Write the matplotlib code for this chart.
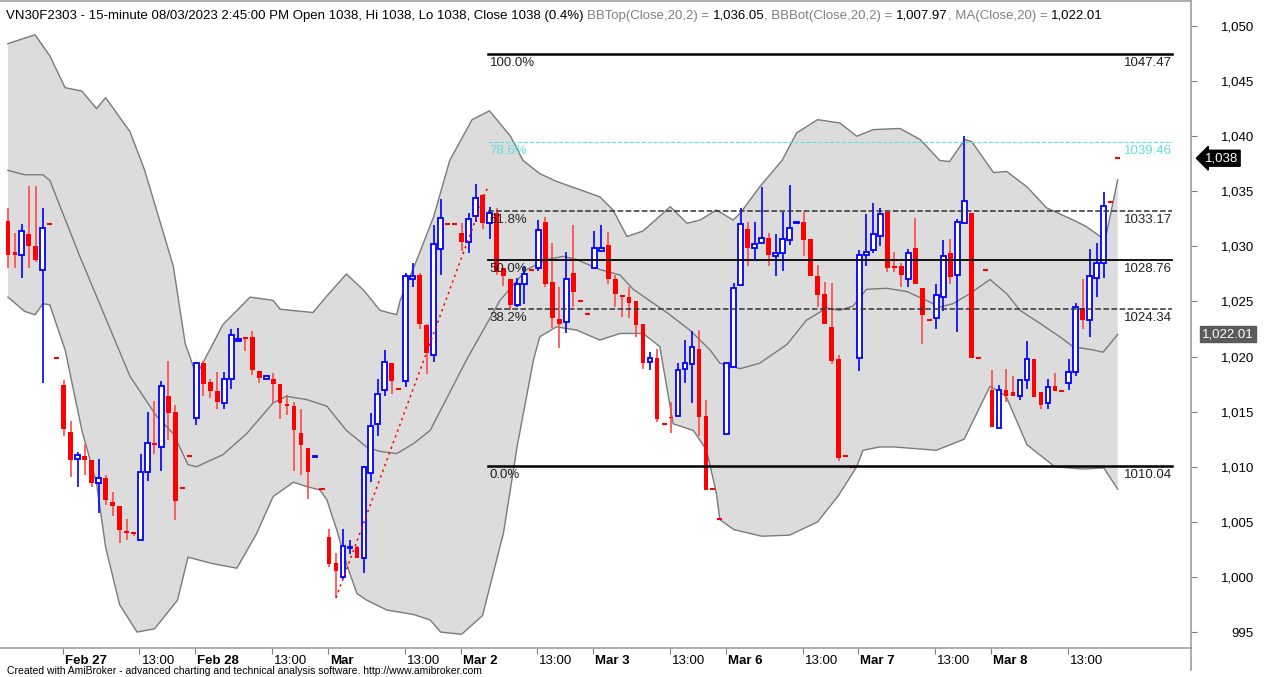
import numpy as np
import matplotlib.pyplot as plt
import matplotlib.transforms as mtransforms

# 15-minute bars, tail of Feb 24 then Feb 27 .. Mar 8 (19 bars a day)
opens = [1032.3, 1029.5, 1029.2, 1031.1, 1030.0, 1027.9, 1032.0, 1019.9,
         1017.4, 1013.2, 1010.7, 1011.0, 1010.6, 1008.5, 1009.0, 1006.8, 1006.4, 1004.2, 1004.0, 1003.4,
         1009.5, 1012.2, 1011.8, 1016.4, 1015.0, 1008.1, 1011.0,
         1014.4, 1019.4, 1017.7, 1016.9, 1015.8, 1018.0, 1021.4, 1021.7, 1021.8, 1018.7, 1018.0, 1018.0,
         1017.5, 1015.7, 1015.5, 1013.1, 1011.7, 1010.85, 1008.0,
         1003.6, 1001.3, 1000.0, 1002.6, 1002.7, 1001.7, 1009.4, 1013.9, 1017.0, 1019.4, 1017.1, 1017.8,
         1027.0, 1027.4, 1022.9, 1020.1, 1029.8, 1032.0, 1032.0,
         1031.2, 1030.4, 1032.8, 1034.7, 1032.1, 1033.0, 1028.0, 1027.0, 1024.7, 1026.6, 1027.9, 1028.0,
         1032.2, 1026.8, 1023.4, 1023.1, 1027.6, 1025.0, 1023.9,
         1028.0, 1029.6, 1030.1, 1027.0, 1025.6, 1025.4, 1025.0, 1023.0, 1019.5, 1019.9, 1013.9, 1014.5,
         1014.6, 1018.9, 1019.3, 1020.7, 1014.6, 1008.0, 1005.3,
         1013.0, 1019.1, 1026.5, 1031.6, 1029.9, 1030.3, 1030.8, 1029.1, 1029.4, 1030.6, 1032.15, 1032.2,
         1030.7, 1027.3, 1025.7, 1022.7, 1019.8, 1011.0, 1010.0,
         1019.9, 1029.2, 1029.7, 1030.9, 1033.1, 1028.2, 1028.2, 1027.0, 1029.9, 1026.2, 1023.3, 1023.5,
         1025.4, 1029.4, 1027.4, 1032.1, 1033.0, 1019.9, 1027.9,
         1017.0, 1013.5, 1017.0, 1016.8, 1016.4, 1017.9, 1019.8, 1016.8, 1015.8, 1017.3, 1016.9, 1017.6,
         1018.6, 1024.4, 1023.3, 1027.1, 1028.5, 1034.0, 1038.0]
highs = [1033.5, 1031.2, 1032.0, 1035.5, 1035.5, 1033.5, 1032.0, 1019.9,
         1017.9, 1014.2, 1011.3, 1012.1, 1010.6, 1010.7, 1009.3, 1007.7, 1006.4, 1005.3, 1004.0, 1011.2,
         1015.0, 1016.0, 1017.8, 1019.6, 1015.6, 1008.1, 1011.0,
         1019.5, 1019.6, 1018.0, 1018.6, 1018.6, 1022.5, 1022.6, 1021.7, 1022.3, 1018.7, 1018.3, 1018.5,
         1017.5, 1016.5, 1015.9, 1015.2, 1011.7, 1010.95, 1008.0,
         1004.4, 1002.2, 1004.4, 1003.4, 1002.8, 1010.1, 1014.9, 1018.0, 1020.6, 1019.4, 1017.1, 1027.6,
         1028.5, 1027.6, 1023.0, 1031.9, 1034.3, 1032.0, 1032.0,
         1032.1, 1033.0, 1035.7, 1034.8, 1033.6, 1033.5, 1028.0, 1027.0, 1027.1, 1028.2, 1027.9, 1032.4,
         1032.7, 1030.3, 1026.3, 1029.5, 1031.9, 1025.0, 1023.9,
         1031.4, 1031.9, 1031.3, 1027.4, 1025.6, 1026.3, 1025.0, 1023.0, 1020.4, 1020.7, 1013.9, 1015.9,
         1019.4, 1021.5, 1022.3, 1022.4, 1016.1, 1008.0, 1005.3,
         1019.4, 1026.7, 1033.5, 1032.2, 1032.2, 1035.4, 1031.2, 1031.1, 1033.1, 1035.6, 1032.25, 1033.1,
         1030.7, 1028.3, 1026.8, 1026.7, 1020.1, 1011.0, 1010.0,
         1029.7, 1032.9, 1033.9, 1033.5, 1033.1, 1029.5, 1028.5, 1029.8, 1032.6, 1026.2, 1023.3, 1026.6,
         1030.6, 1030.7, 1032.5, 1040.0, 1033.0, 1019.9, 1027.9,
         1018.8, 1017.4, 1018.9, 1018.2, 1017.9, 1021.4, 1019.8, 1016.8, 1018.0, 1018.5, 1016.9, 1019.8,
         1024.9, 1027.0, 1029.8, 1030.3, 1034.9, 1034.0, 1038.0]
lows = [1028.0, 1028.0, 1027.1, 1028.0, 1028.6, 1017.6, 1032.0, 1019.9,
        1012.8, 1009.1, 1008.2, 1009.3, 1008.2, 1005.8, 1006.5, 1005.5, 1003.1, 1003.4, 1003.7, 1003.4,
        1008.7, 1011.2, 1009.6, 1012.4, 1005.2, 1008.1, 1011.0,
        1013.8, 1016.4, 1016.2, 1015.2, 1015.2, 1017.1, 1021.4, 1020.5, 1018.3, 1017.6, 1018.0, 1015.8,
        1014.3, 1014.7, 1009.6, 1009.3, 1007.1, 1010.85, 1008.0,
        1000.9, 998.1, 999.8, 1002.1, 1001.7, 1000.4, 1008.6, 1012.8, 1016.4, 1016.6, 1017.1, 1017.2,
        1026.3, 1022.5, 1018.4, 1019.5, 1027.4, 1032.0, 1032.0,
        1029.6, 1029.4, 1032.2, 1031.6, 1030.7, 1027.4, 1026.4, 1024.2, 1024.5, 1024.8, 1027.9, 1027.8,
        1026.3, 1022.6, 1020.8, 1022.1, 1024.5, 1025.0, 1023.9,
        1028.0, 1029.6, 1026.6, 1024.5, 1023.6, 1023.5, 1021.8, 1018.9, 1018.8, 1014.1, 1013.9, 1013.1,
        1014.6, 1017.6, 1015.8, 1012.8, 1007.9, 1008.0, 1005.3,
        1013.0, 1019.1, 1026.5, 1028.2, 1028.7, 1030.3, 1028.2, 1027.3, 1027.8, 1030.1, 1032.15, 1029.1,
        1027.3, 1024.5, 1023.0, 1019.3, 1010.5, 1011.0, 1010.0,
        1018.7, 1028.2, 1029.4, 1030.0, 1027.7, 1027.7, 1026.3, 1026.3, 1026.6, 1021.1, 1023.3, 1022.5,
        1024.1, 1026.6, 1022.2, 1032.1, 1019.9, 1019.9, 1027.9,
        1013.6, 1013.5, 1015.9, 1016.4, 1016.1, 1017.1, 1016.3, 1015.2, 1015.2, 1016.9, 1016.9, 1017.0,
        1018.2, 1022.5, 1021.8, 1025.4, 1027.1, 1034.0, 1038.0]
closes = [1029.2, 1029.2, 1031.4, 1030.0, 1028.8, 1031.7, 1032.0, 1019.9,
          1013.4, 1010.6, 1011.1, 1010.6, 1008.5, 1009.0, 1007.0, 1006.4, 1004.3, 1004.0, 1004.0, 1009.5,
          1012.2, 1012.0, 1017.3, 1014.9, 1006.9, 1008.1, 1011.0,
          1019.4, 1017.5, 1016.9, 1015.9, 1018.0, 1022.0, 1021.6, 1021.7, 1018.8, 1018.1, 1018.2, 1017.5,
          1015.8, 1015.5, 1013.3, 1012.0, 1009.5, 1010.95, 1008.0,
          1001.2, 1000.5, 1002.8, 1002.7, 1001.7, 1010.0, 1013.7, 1016.6, 1019.5, 1017.8, 1017.1, 1027.3,
          1027.3, 1023.0, 1020.3, 1030.2, 1032.6, 1032.0, 1032.0,
          1030.4, 1032.5, 1034.4, 1032.1, 1033.0, 1027.7, 1027.3, 1024.7, 1026.6, 1027.5, 1027.9, 1031.5,
          1026.6, 1023.5, 1023.0, 1027.0, 1025.9, 1025.0, 1023.9,
          1029.9, 1029.9, 1027.0, 1025.7, 1025.4, 1024.9, 1022.9, 1019.4, 1019.9, 1014.3, 1013.9, 1014.4,
          1018.8, 1019.4, 1020.9, 1014.5, 1007.9, 1008.0, 1005.3,
          1019.4, 1026.2, 1032.0, 1029.9, 1030.2, 1030.8, 1029.2, 1029.4, 1030.7, 1031.7, 1032.25, 1030.6,
          1027.3, 1025.6, 1023.0, 1019.6, 1010.8, 1011.0, 1010.0,
          1029.2, 1029.5, 1031.1, 1032.9, 1028.0, 1028.0, 1027.4, 1029.4, 1026.6, 1023.8, 1023.3, 1025.6,
          1029.1, 1027.2, 1032.2, 1034.1, 1019.9, 1019.9, 1027.9,
          1013.6, 1017.0, 1016.4, 1016.4, 1017.9, 1019.8, 1016.3, 1015.6, 1017.2, 1016.9, 1016.9, 1018.6,
          1024.5, 1023.3, 1027.3, 1028.5, 1033.7, 1034.0, 1038.0]

# Bollinger bands (20,2), position in bars
bb_top_x = [0, 2.4, 3.9, 5, 6, 8.2, 10.6, 12.7, 14, 17.5, 19.6, 23.7, 25.4, 27, 30.8, 34.7, 38, 39,
            43.7, 45.7, 48.5, 51, 53.3, 55.7, 56.2, 58.6, 61, 63.3, 66.5, 69, 72, 73.8, 76.2, 78.6,
            84.8, 86.7, 88.7, 91, 94.9, 97.3, 99.2, 101.5, 103.9, 104.9, 107.7, 110.9, 113, 116, 119.2,
            121.6, 124, 127.8, 130.7, 133.5, 134.9, 137.1, 138.1, 141.2, 143.1, 146, 148.8, 152.6,
            154.5, 156.5, 157.4, 159]
bb_top = [1048.4, 1048.9, 1049.2, 1048.2, 1047.3, 1044.4, 1044.1, 1042.5, 1043.5, 1040.4, 1036.9,
          1028.2, 1021.2, 1018.3, 1022.9, 1025.4, 1025.1, 1024.3, 1024.0, 1025.5, 1027.5, 1026.0,
          1024.2, 1023.8, 1025.1, 1028.8, 1032.7, 1037.8, 1041.5, 1042.3, 1040.0, 1037.8, 1036.6,
          1035.9, 1034.5, 1033.3, 1030.9, 1031.4, 1033.6, 1032.1, 1032.4, 1033.3, 1032.4, 1033.0,
          1035.4, 1037.8, 1040.3, 1041.5, 1041.2, 1040.0, 1040.6, 1040.7, 1039.7, 1037.8, 1037.7,
          1039.7, 1039.5, 1036.7, 1036.8, 1035.4, 1033.5, 1032.4, 1031.8, 1030.9, 1031.2, 1036.05]
bb_mid_x = [0, 2.4, 5, 6, 10.3, 17.5, 21.3, 23.7, 25.8, 27, 30.8, 34.2, 38, 39.9, 42.8, 45.7, 48.5,
            51.4, 53.3, 55.7, 58.1, 60.5, 65.7, 70.5, 74.3, 77.2, 79.6, 81.5, 84.8, 87.7, 89.6, 94.4,
            97.7, 100.6, 102, 104.9, 107.7, 111.6, 114.4, 117.3, 119.2, 121.1, 123, 125.9, 128.8,
            131.6, 133.5, 135.4, 137.8, 140.7, 143.1, 145, 147.9, 150.7, 152.6, 155.5, 156.9, 159]
bb_mid = [1036.9, 1036.5, 1036.5, 1036.0, 1029.1, 1018.2, 1014.6, 1013.0, 1010.2, 1010.0, 1011.1,
          1013.0, 1015.8, 1016.4, 1016.1, 1015.5, 1013.3, 1011.8, 1011.4, 1011.2, 1012.1, 1013.3,
          1019.7, 1025.1, 1027.9, 1028.8, 1029.1, 1028.8, 1027.9, 1027.4, 1026.1, 1024.0, 1022.4,
          1020.6, 1019.4, 1018.9, 1019.4, 1021.1, 1023.3, 1024.4, 1024.2, 1024.6, 1026.1, 1026.2,
          1025.9, 1025.1, 1024.5, 1024.8, 1025.7, 1027.0, 1025.7, 1024.2, 1023.0, 1021.8, 1020.9,
          1020.6, 1020.4, 1022.01]
bb_bot_x = [0, 2.4, 3.9, 5, 6, 8.2, 10.6, 12.7, 14, 16, 18.5, 21, 24.3, 25.8, 27, 29.4, 32.8, 35.6,
            38, 40.9, 42.8, 44.7, 45.7, 47.1, 48.5, 50, 51.4, 54.3, 58.1, 60.5, 62, 65, 68, 71, 73,
            75.3, 76.2, 78.6, 81.5, 84.8, 87.7, 91, 93.4, 95.3, 98.2, 100.1, 101.5, 102, 104, 108, 112,
            116, 119, 121.6, 122.5, 124.9, 127, 133, 137, 140.7, 143, 146, 150, 154, 157, 159]
bb_bot = [1025.4, 1024.1, 1023.8, 1024.8, 1024.7, 1020.6, 1013.3, 1008.5, 1002.7, 997.5, 995.0,
          995.3, 997.9, 1001.8, 1001.6, 1001.2, 1000.8, 1003.9, 1007.3, 1008.6, 1008.2, 1007.9,
          1007.0, 1004.3, 1001.2, 998.5, 997.9, 997.0, 996.6, 996.1, 995.0, 994.8, 996.5, 1004.0,
          1012.0, 1019.7, 1021.8, 1022.7, 1022.4, 1021.5, 1022.1, 1022.1, 1020.9, 1013.9, 1013.3,
          1011.5, 1007.6, 1005.2, 1004.3, 1003.7, 1003.8, 1005.0, 1007.4, 1010.0, 1011.5, 1011.8,
          1011.8, 1011.5, 1012.5, 1017.3, 1016.4, 1012.0, 1010.0, 1009.8, 1009.9, 1007.97]

# fibonacci drawing
trend_x = [47, 68.8]
trend_y = [998.1, 1035.5]
fib_pct = ["100.0%", "78.6%", "61.8%", "50.0%", "38.2%", "0.0%"]
fib_val = [1047.47, 1039.46, 1033.17, 1028.76, 1024.34, 1010.04]

day_names = ["Feb 27", "Feb 28", "Mar", "Mar 2", "Mar 3", "Mar 6", "Mar 7", "Mar 8"]
day_start = [8, 27, 46, 65, 84, 103, 122, 141]

o = np.array(opens); h = np.array(highs); l = np.array(lows); c = np.array(closes)
n = len(c)
idx = np.arange(n)

W, H = 1266, 677
fig = plt.figure(figsize=(W / 100, H / 100), dpi=100)
plt.rcParams['font.family'] = ['Liberation Sans', 'DejaVu Sans']

ax_right = 1191
ax_top, ax_bot = 1, 648
ax = fig.add_axes([0, 1 - ax_bot / H, ax_right / W, (ax_bot - ax_top) / H])

bar_px = 6.98
x0_px = 7.9
ax.set_xlim(-x0_px / bar_px, (ax_right - x0_px) / bar_px)
px_per_pt = 11.02
ax.set_ylim(1050 - (ax_bot - 26) / px_per_pt, 1050 + (26 - ax_top) / px_per_pt)

# bands
poly_x = np.concatenate([bb_top_x, bb_bot_x[::-1]])
poly_y = np.concatenate([bb_top, bb_bot[::-1]])
ax.fill(poly_x, poly_y, color='#dcdcdc', lw=0, zorder=0)
ax.plot(bb_top_x, bb_top, color='#7a7a7a', lw=1, zorder=1)
ax.plot(bb_mid_x, bb_mid, color='#7a7a7a', lw=1, zorder=1)
ax.plot(bb_bot_x, bb_bot, color='#7a7a7a', lw=1, zorder=1)

# candles
up = c > o
down = c < o
flat = c == o
ax.vlines(idx[up], l[up], h[up], color='#0000ff', lw=1.2, zorder=3)
ax.vlines(idx[~up], l[~up], h[~up], color='#ff4848', lw=1.2, zorder=3)
ax.bar(idx[up], c[up] - o[up], bottom=o[up], width=0.68, facecolor='white',
       edgecolor='#0000ff', lw=1.3, zorder=4)
ax.bar(idx[down], o[down] - c[down], bottom=c[down], width=0.68, color='#ff0000',
       lw=0, zorder=4)
ax.hlines(c[flat], idx[flat] - 0.36, idx[flat] + 0.36, color='#ff0000', lw=1.5, zorder=4)

# trend line + fib levels
ax.plot(trend_x, trend_y, color='#ff0000', lw=1.1, ls=(0, (1.5, 2.5)), zorder=5)
fib_end = (1172 - x0_px) / bar_px
fib_style = ['-', '--', '--', '-', '--', '-']
fib_lw = [1.8, 0.8, 1.1, 1.3, 1.1, 1.8]
fib_col = ['black', '#66dcdc', '#333333', 'black', '#333333', 'black']
for lab, v, ls, lw, col in zip(fib_pct, fib_val, fib_style, fib_lw, fib_col):
    ax.plot([trend_x[1], fib_end], [v, v], color=col, lw=lw, ls=ls, zorder=6)
    tcol = '#66dcdc' if col == '#66dcdc' else '#222222'
    ax.annotate(lab, (trend_x[1], v), xytext=(1, -2), textcoords='offset points',
                ha='left', va='top', fontsize=9.5, color=tcol, zorder=7)
    ax.annotate(f"{v:.2f}", (fib_end, v), xytext=(0, -2), textcoords='offset points',
                ha='right', va='top', fontsize=9.5, color=tcol, zorder=7)

# axes frame
ax.spines['left'].set_visible(False)
for side in ['top', 'bottom', 'right']:
    ax.spines[side].set_color('#a0a0a0')
    ax.spines[side].set_linewidth(1.2)

# x ticks
ticks, labels, bold = [], [], []
for name, s in zip(day_names, day_start):
    ticks += [s - 0.15, s + 11 - 0.15]
    labels += [name, "13:00"]
    bold += [True, False]
ax.set_xticks(ticks)
ax.set_xticklabels(labels, fontsize=9.5)
ax.tick_params(axis='x', direction='out', length=4, width=0.8, color='#808080', pad=1)
offset = mtransforms.ScaledTranslation(2 / 100, 0, fig.dpi_scale_trans)
for lab, b in zip(ax.get_xticklabels(), bold):
    lab.set_horizontalalignment('left')
    lab.set_transform(lab.get_transform() + offset)
    if b:
        lab.set_fontweight('bold')

# y ticks on right
yt = np.arange(995, 1051, 5)
ax.yaxis.set_ticks_position('right')
ax.set_yticks(yt)
ax.set_yticklabels([f"{v:,}" for v in yt], fontsize=9.5)
ax.tick_params(axis='y', direction='out', length=4, width=0.8, color='#808080',
               pad=(1254 - ax_right) * 0.72 - 4 * 1.0)
for lab in ax.get_yticklabels():
    lab.set_horizontalalignment('right')

# right axis separator line down into label area
fig.add_artist(plt.Line2D([ax_right / W, ax_right / W], [1 - 670 / H, 1 - ax_bot / H],
                          color='#a0a0a0', lw=1.2))

# price tags
last_y = c[-1]
tr = ax.get_yaxis_transform()
ax.annotate("1,038", xy=(1.0, last_y), xycoords=tr, xytext=(10, 0), textcoords='offset points',
            ha='left', va='center', fontsize=9.5, color='white',
            bbox=dict(boxstyle='larrow,pad=0.15', fc='black', ec='black'), annotation_clip=False)
ax.annotate("1,022.01", xy=(1.0, bb_mid[-1]), xycoords=tr, xytext=(8, 0), textcoords='offset points',
            ha='left', va='center', fontsize=9.5, color='white',
            bbox=dict(boxstyle='square,pad=0.15', fc='#5a5a5a', ec='#5a5a5a'), annotation_clip=False)

# header
segs = [("VN30F2303 - 15-minute 08/03/2023 2:45:00 PM Open 1038, Hi 1038, Lo 1038, Close 1038 (0.4%) ", 'black'),
        ("BBTop(Close,20,2) = ", '#808080'), ("1,036.05", 'black'),
        (", BBBot(Close,20,2) = ", '#808080'), ("1,007.97", 'black'),
        (", MA(Close,20) = ", '#808080'), ("1,022.01", 'black')]
renderer = fig.canvas.get_renderer()
xpix = 6
for s, col in segs:
    t = fig.text(xpix / W, 1 - 19 / H, s, fontsize=9.5, color=col, va='baseline', ha='left')
    bb = t.get_window_extent(renderer)
    xpix += bb.width

fig.text(7 / W, 1 - 674 / H,
         "Created with AmiBroker - advanced charting and technical analysis software. http://www.amibroker.com",
         fontsize=7.5, color='black', va='baseline', ha='left')

fig.savefig("out.png", dpi=100)
